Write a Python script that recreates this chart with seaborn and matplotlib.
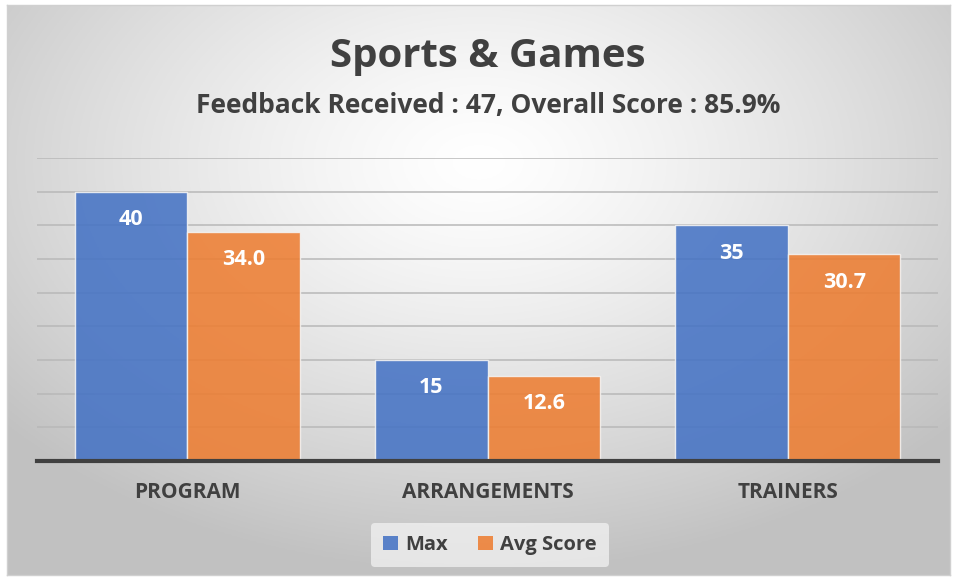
import numpy as np
import pandas as pd
import matplotlib
matplotlib.use("Agg")
import matplotlib.pyplot as plt
import seaborn as sns
from matplotlib.patches import Patch

categories = ["PROGRAM", "ARRANGEMENTS", "TRAINERS"]
max_values = [40, 15, 35]
avg_values = [34.0, 12.6, 30.7]
series_names = ["Max", "Avg Score"]
title = "Sports & Games"
subtitle = "Feedback Received : 47, Overall Score : 85.9%"

df = pd.DataFrame({
    "category": categories * 2,
    "series": [series_names[0]] * 3 + [series_names[1]] * 3,
    "value": max_values + avg_values,
})

sns.set_theme(style="white")
plt.rcParams["font.family"] = ["Open Sans", "DejaVu Sans"]

W, H = 956, 580
fig = plt.figure(figsize=(W / 100, H / 100), dpi=100)
fig.patch.set_facecolor("white")

# radial gradient background panel
bg = fig.add_axes([7 / W, 5 / H, 943 / W, 570 / H], zorder=-5)
nx, ny = 400, 250
xx, yy = np.meshgrid(np.linspace(-1, 1, nx), np.linspace(-1, 1, ny))
cy = -0.45
r = np.sqrt((xx / 1.05) ** 2 + ((yy - cy) / 1.15) ** 2)
r = np.clip(r, 0, 1.25) / 1.25
g = 1.0 - 0.24 * r ** 1.3
img = np.dstack([g, g, g])
bg.imshow(img, aspect="auto", extent=[0, 1, 0, 1], origin="upper")
bg.set_xticks([]); bg.set_yticks([])
for s in bg.spines.values():
    s.set_color("#d0d0d0"); s.set_linewidth(1)

ax = fig.add_axes([37 / W, (H - 461) / H, 901 / W, 303 / H])
ax.set_facecolor("none")
colors = ["#4472C4", "#ED7D31"]
sns.barplot(data=df, x="category", y="value", hue="series", order=categories,
            hue_order=series_names, palette=colors, saturation=1, width=0.75, alpha=0.87,
            edgecolor="#f4f4f4", linewidth=1.0, ax=ax, legend=False, zorder=3)

ax.set_ylim(0, 45)
ax.set_xlim(-0.5, 2.5)
ax.set_yticks(np.arange(0, 46, 5))
ax.set_yticklabels([])
ax.tick_params(axis="y", length=0)
ax.yaxis.grid(True, color="#b8b8b8", linewidth=1.1, zorder=0)
ax.set_axisbelow(False)
for l in ax.get_ygridlines():
    l.set_zorder(1)
for side in ["left", "right", "top"]:
    ax.spines[side].set_visible(False)
ax.spines["bottom"].set_color("#404040")
ax.spines["bottom"].set_linewidth(3)
ax.spines["bottom"].set_zorder(5)
ax.set_xlabel(""); ax.set_ylabel("")
ax.tick_params(axis="x", length=0, pad=15, labelsize=15, labelcolor="#404040")
for t in ax.get_xticklabels():
    t.set_fontweight("bold")

# value labels
labels_by_series = [[f"{v:.0f}" for v in max_values], [f"{v:.1f}" for v in avg_values]]
for ci, cont in enumerate(ax.containers):
    for bar, lab in zip(cont, labels_by_series[ci]):
        x = bar.get_x() + bar.get_width() / 2
        y = bar.get_height()
        ax.annotate(lab, (x, y), xytext=(0, -20), textcoords="offset points",
                    ha="center", va="center", color="white", fontsize=15.5,
                    fontweight="bold", zorder=6)

fig.text(488 / W, 1 - 57 / H, title, ha="center", va="center", fontsize=29,
         fontweight="bold", color="#404040")
fig.text(488 / W, 1 - 105 / H, subtitle, ha="center", va="center", fontsize=19,
         fontweight="bold", color="#404040")

handles = [Patch(facecolor=c, alpha=0.87, edgecolor="none") for c in colors]
leg = fig.legend(handles, series_names, loc="center", bbox_to_anchor=(490 / W, 1 - 545 / H),
                 ncol=2, frameon=True, fontsize=14.5, handlelength=0.75, handleheight=0.75,
                 handletextpad=0.35, columnspacing=1.5, borderpad=0.6)
leg.get_frame().set_facecolor("#f5f5f5")
leg.get_frame().set_edgecolor("none")
leg.get_frame().set_alpha(0.7)
for t in leg.get_texts():
    t.set_fontweight("bold"); t.set_color("#404040")

fig.savefig("out.png", dpi=100, facecolor="white")
